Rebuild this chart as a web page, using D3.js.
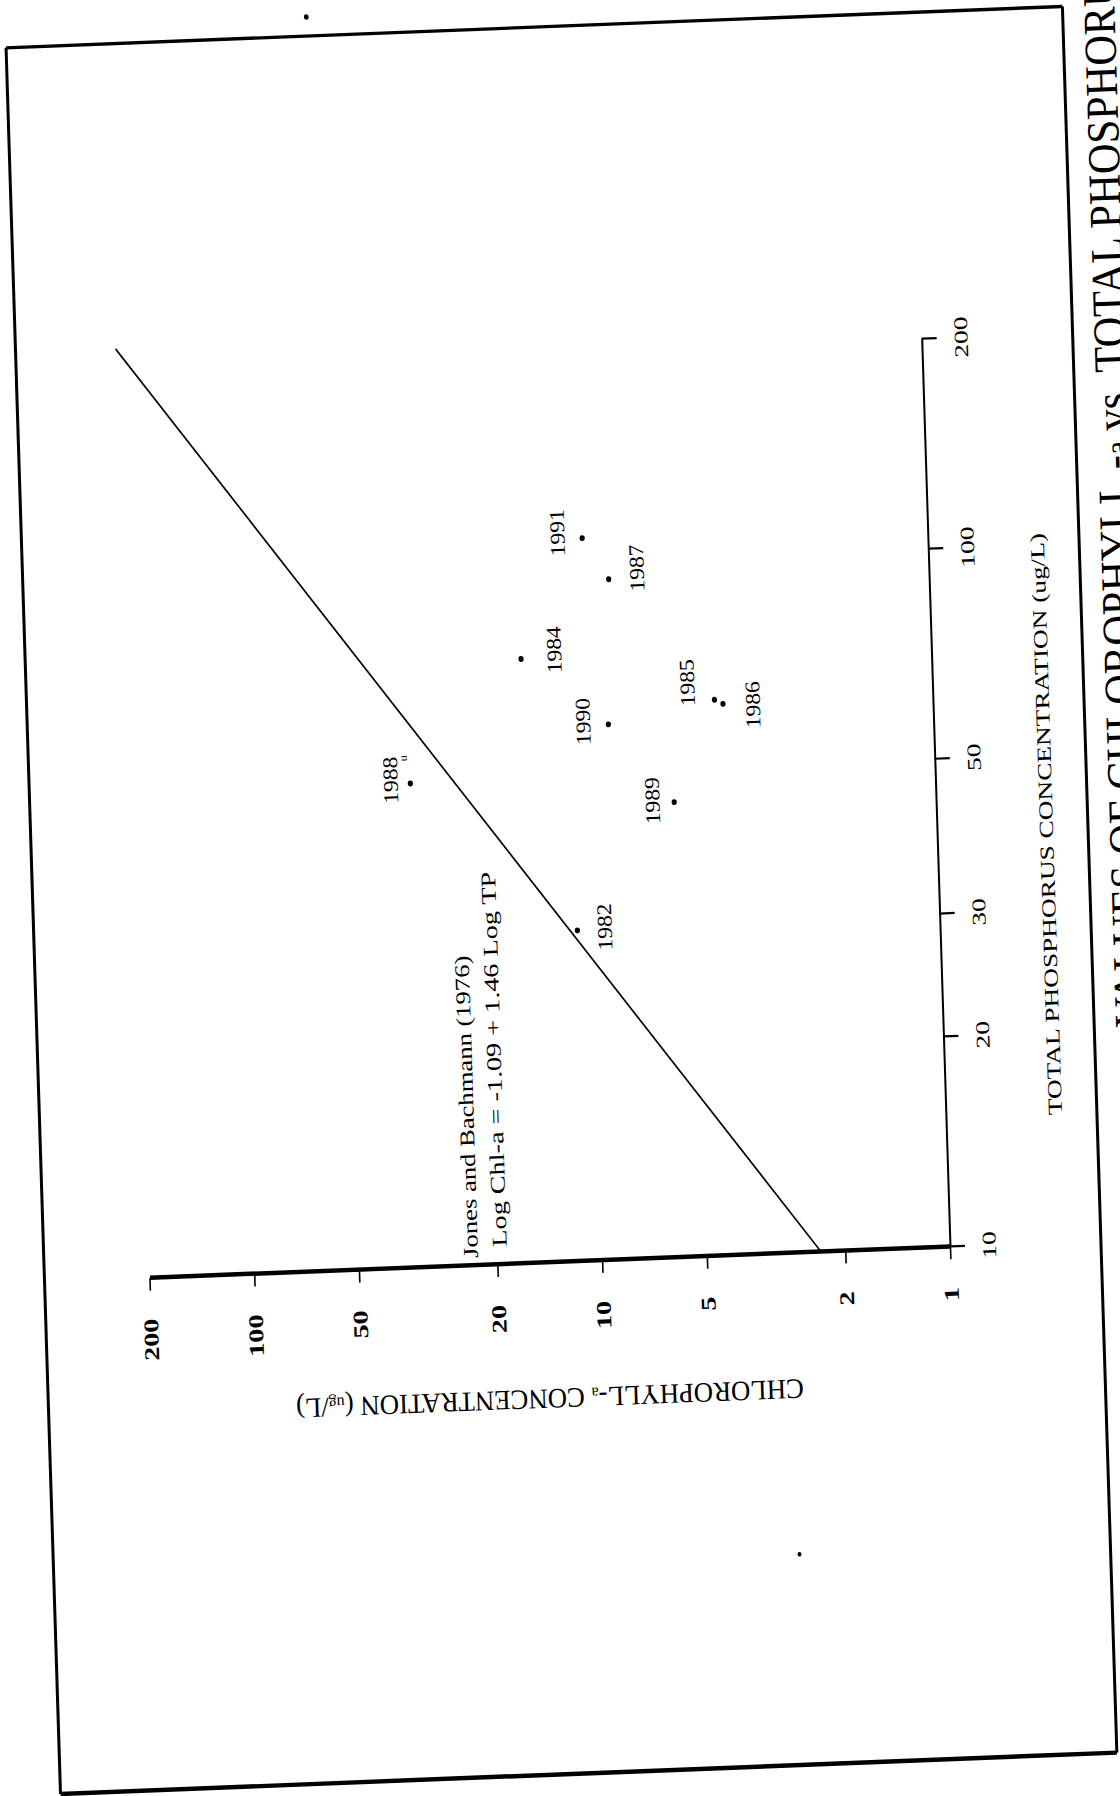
<!DOCTYPE html>
<html>
<head>
<meta charset="utf-8">
<script src="https://cdn.jsdelivr.net/npm/d3@7"></script>
<style>
  body { margin: 0; background: #fff; }
  svg text { font-family: "Liberation Serif", "Times New Roman", serif; fill: #000; }
</style>
</head>
<body>
<div id="chart"></div>
<script>
// values
const years = [1982, 1984, 1985, 1986, 1987, 1988, 1989, 1990, 1991];
const tpValues = [29.8, 73.4, 62.6, 61.7, 94.4, 49.4, 44.9, 58.5, 108.5];
const chlValues = [11.0, 15.1, 4.24, 4.01, 8.32, 32.2, 5.65, 8.59, 9.83];
const tpTicks = [10, 20, 30, 50, 100, 200];
const chlTicks = [1, 2, 5, 10, 20, 50, 100, 200];
// Jones and Bachmann (1976): log Chl-a = -1.09 + 1.46 log TP
const fitIntercept = -1.09;
const fitSlope = 1.46;
const fitTpRange = [10, 215];

const width = 1120;
const height = 1796;

// the page was scanned sideways and a little skewed:
// the chart is drawn upright, then turned onto the page
const originX = 950;
const originY = 1247;
const squeeze = 1.12;
const skew = -2;

// label placement around each point (chart units: dx along TP, dy along Chl)
const labelOffset = {
  1982: [2, 27], 1984: [7, 33], 1985: [16, -27], 1986: [-2, 29.5],
  1987: [9, 28], 1988: [3.5, -20], 1989: [2, -22], 1990: [3.5, -25.5], 1991: [5.5, -25]
};

const points = years.map((yr, i) => ({ year: yr, tp: tpValues[i], chl: chlValues[i] }));

const svg = d3.select("#chart")
  .append("svg")
  .attr("width", width)
  .attr("height", height);

svg.append("rect").attr("width", width).attr("height", height).attr("fill", "#fff");

const page = svg.append("g")
  .attr("transform", `translate(${originX},${originY}) scale(1,${squeeze}) rotate(${skew}) rotate(-90)`);

const x = d3.scaleLog().domain([10, 200]).range([0, 811]);
const y = d3.scaleLog().domain([1, 200]).range([0, -801]);

// sheet border
const frame = { left: -457, right: 1103, top: -906, bottom: 151 };
const border = page.append("g").attr("stroke", "#000").attr("fill", "none");
border.append("line").attr("x1", frame.left).attr("y1", frame.top).attr("x2", frame.left).attr("y2", frame.bottom).attr("stroke-width", 4);
border.append("line").attr("x1", frame.right).attr("y1", frame.top).attr("x2", frame.right).attr("y2", frame.bottom).attr("stroke-width", 3);
border.append("line").attr("x1", frame.left).attr("y1", frame.top).attr("x2", frame.right).attr("y2", frame.top).attr("stroke-width", 3);
border.append("line").attr("x1", frame.left).attr("y1", frame.bottom).attr("x2", frame.right).attr("y2", frame.bottom).attr("stroke-width", 3);

// TP axis
const xAxis = page.append("g")
  .call(d3.axisBottom(x).tickValues(tpTicks).tickSize(15).tickSizeOuter(0).tickPadding(17)
    .tickFormat(d3.format("d")));
xAxis.select(".domain").attr("stroke-width", 2);
xAxis.selectAll(".tick line").attr("stroke-width", 2);
xAxis.selectAll(".tick text")
  .attr("font-size", 19.5)
  .attr("font-family", "Liberation Serif, serif")
  .attr("transform", "scale(1.26,1)");

// Chl-a axis
const yAxis = page.append("g")
  .call(d3.axisLeft(y).tickValues(chlTicks).tickSize(11).tickSizeOuter(0).tickPadding(19)
    .tickFormat(d3.format("d")));
yAxis.select(".domain").attr("stroke-width", 4);
yAxis.selectAll(".tick line").attr("stroke-width", 1.6);
yAxis.selectAll(".tick text")
  .attr("font-size", 21)
  .attr("font-weight", "bold")
  .attr("font-family", "Liberation Serif, serif")
  .attr("transform", "scale(1.2,1)");

// axis titles
page.append("text")
  .attr("x", 374).attr("y", 116)
  .attr("text-anchor", "middle")
  .attr("font-size", 20)
  .attr("textLength", 520)
  .attr("lengthAdjust", "spacingAndGlyphs")
  .text("TOTAL PHOSPHORUS CONCENTRATION (ug/L)");

const chlTitle = page.append("text")
  .attr("transform", "translate(-113,-404.5) rotate(-90)")
  .attr("text-anchor", "middle")
  .attr("font-size", 25)
  .attr("textLength", 508)
  .attr("lengthAdjust", "spacingAndGlyphs");
chlTitle.append("tspan").text("CHLOROPHYLL-");
chlTitle.append("tspan").attr("font-size", 15).text("a");
chlTitle.append("tspan").text(" CONCENTRATION (");
chlTitle.append("tspan").attr("font-size", 15).text("ug");
chlTitle.append("tspan").text("/L)");

// regression line
const fitLine = fitTpRange.map(tp => ({ tp, chl: Math.pow(10, fitIntercept + fitSlope * Math.log10(tp)) }));
page.append("path")
  .datum(fitLine)
  .attr("fill", "none")
  .attr("stroke", "#000")
  .attr("stroke-width", 1.6)
  .attr("d", d3.line().x(d => x(d.tp)).y(d => y(d.chl)));

page.append("text")
  .attr("x", 7).attr("y", -472)
  .attr("font-size", 21)
  .attr("textLength", 270)
  .attr("lengthAdjust", "spacingAndGlyphs")
  .text("Jones and Bachmann (1976)");
page.append("text")
  .attr("x", 16).attr("y", -443)
  .attr("font-size", 21)
  .attr("textLength", 335)
  .attr("lengthAdjust", "spacingAndGlyphs")
  .text("Log Chl-a = -1.09 + 1.46 Log TP");

// yearly means
const pts = page.append("g");
pts.selectAll("circle")
  .data(points)
  .join("circle")
  .attr("cx", d => x(d.tp))
  .attr("cy", d => y(d.chl))
  .attr("r", 2.6)
  .attr("fill", "#000");

pts.selectAll("text")
  .data(points)
  .join("text")
  .attr("x", d => x(d.tp) + labelOffset[d.year][0])
  .attr("y", d => y(d.chl) + labelOffset[d.year][1])
  .attr("dy", "0.35em")
  .attr("text-anchor", "middle")
  .attr("font-size", 21)
  .text(d => d.year);

const p88 = points.find(d => d.year === 1988);
pts.append("text")
  .attr("x", x(p88.tp) + 20)
  .attr("y", y(p88.chl) - 3)
  .attr("font-size", 11)
  .text("u");

// figure caption, cut by the page edge as in the scan
const caption = page.append("text")
  .attr("x", 190).attr("y", 203)
  .attr("font-size", 46)
  .attr("textLength", 960)
  .attr("lengthAdjust", "spacingAndGlyphs");
caption.append("tspan").text("VALUES OF CHLOROPHYLL -");
caption.append("tspan").attr("font-size", 34).text("a");
caption.append("tspan").text(" vs. TOTAL PHOSPHORUS");

// scan specks
page.append("circle").attr("cx", 1120).attr("cy", -605).attr("r", 2.4).attr("fill", "#000");
page.append("circle").attr("cx", -269).attr("cy", -160).attr("r", 2).attr("fill", "#000");
</script>
</body>
</html>
